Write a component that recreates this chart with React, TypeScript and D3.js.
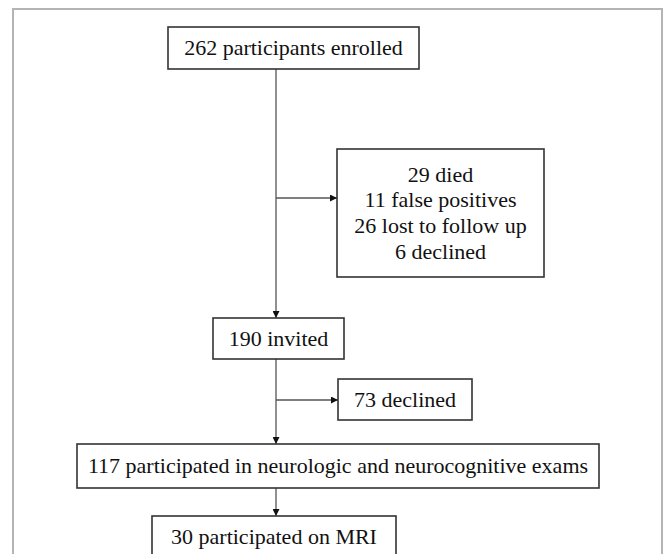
import React, { useEffect, useRef } from "react";
import * as d3 from "d3";

// flow counts and labels, top to bottom
const stepLabels = [
  "262 participants enrolled",
  "190 invited",
  "117 participated in neurologic and neurocognitive exams",
  "30 participated on MRI",
];
const exclusionLabels = [
  ["29 died", "11 false positives", "26 lost to follow up", "6 declined"],
  ["73 declined"],
];

// box geometry (px) for main steps and the exclusion boxes
const stepBoxes = [
  { x0: 168, x1: 419, y0: 27, y1: 69 },
  { x0: 213, x1: 344, y0: 318, y1: 359 },
  { x0: 77, x1: 599, y0: 444, y1: 488 },
  { x0: 152, x1: 396, y0: 516, y1: 558 },
];
const exclusionBoxes = [
  { x0: 337, x1: 544, y0: 149, y1: 277, branchY: 198 },
  { x0: 338, x1: 472, y0: 379, y1: 420, branchY: 400 },
];

export default function App() {
  const svgRef = useRef<SVGSVGElement>(null);

  useEffect(() => {
    const w = 663;
    const h = 554;
    const spineX = 276;
    const fontSize = 22;
    const lineGap = 25.6;

    const svg = d3.select(svgRef.current);
    svg.selectAll("*").remove();
    svg.attr("width", w).attr("height", h);

    svg
      .append("defs")
      .append("marker")
      .attr("id", "arrow")
      .attr("viewBox", "0 0 10 10")
      .attr("refX", 10)
      .attr("refY", 5)
      .attr("markerWidth", 7)
      .attr("markerHeight", 7)
      .attr("markerUnits", "userSpaceOnUse")
      .attr("orient", "auto")
      .append("path")
      .attr("d", "M0,0 L10,5 L0,10 Z")
      .attr("fill", "#111");

    svg.append("rect").attr("width", w).attr("height", h).attr("fill", "#fff");

    // outer frame
    svg
      .append("rect")
      .attr("x", 13)
      .attr("y", 9)
      .attr("width", 649)
      .attr("height", 560)
      .attr("fill", "none")
      .attr("stroke", "#b4b4b4")
      .attr("stroke-width", 2);

    const link = d3.line<[number, number]>();
    const connectors: [number, number][][] = [
      [
        [spineX, stepBoxes[0].y1],
        [spineX, stepBoxes[1].y0],
      ],
      [
        [spineX, stepBoxes[1].y1],
        [spineX, stepBoxes[2].y0],
      ],
      [
        [spineX, stepBoxes[2].y1],
        [spineX, stepBoxes[3].y0],
      ],
      ...exclusionBoxes.map(
        (b) =>
          [
            [spineX, b.branchY],
            [b.x0, b.branchY],
          ] as [number, number][]
      ),
    ];

    svg
      .append("g")
      .selectAll("path")
      .data(connectors)
      .join("path")
      .attr("d", (d) => link(d))
      .attr("fill", "none")
      .attr("stroke", "#555")
      .attr("stroke-width", 1.3)
      .attr("marker-end", "url(#arrow)");

    const drawBox = (
      g: d3.Selection<SVGGElement, unknown, null, undefined>,
      b: { x0: number; x1: number; y0: number; y1: number },
      lines: string[]
    ) => {
      g.append("rect")
        .attr("x", b.x0)
        .attr("y", b.y0)
        .attr("width", b.x1 - b.x0)
        .attr("height", b.y1 - b.y0)
        .attr("fill", "#fff")
        .attr("stroke", "#333")
        .attr("stroke-width", 1.6);
      const cx = (b.x0 + b.x1) / 2;
      const cy = (b.y0 + b.y1) / 2;
      const first = cy - ((lines.length - 1) * lineGap) / 2;
      g.selectAll("text.lbl")
        .data(lines)
        .join("text")
        .attr("class", "lbl")
        .attr("x", cx)
        .attr("y", (_, i) => first + i * lineGap)
        .attr("dy", "0.33em")
        .attr("text-anchor", "middle")
        .attr("font-family", "'Liberation Serif', 'Times New Roman', serif")
        .attr("font-size", fontSize)
        .attr("fill", "#111")
        .text((d) => d);
    };

    stepLabels.forEach((label, i) => {
      drawBox(svg.append("g"), stepBoxes[i], [label]);
    });
    exclusionLabels.forEach((lines, i) => {
      drawBox(svg.append("g"), exclusionBoxes[i], lines);
    });
  }, []);

  return (
    <div style={{ position: "absolute", left: 0, top: 0 }}>
      <svg ref={svgRef} style={{ display: "block" }}></svg>
    </div>
  );
}
